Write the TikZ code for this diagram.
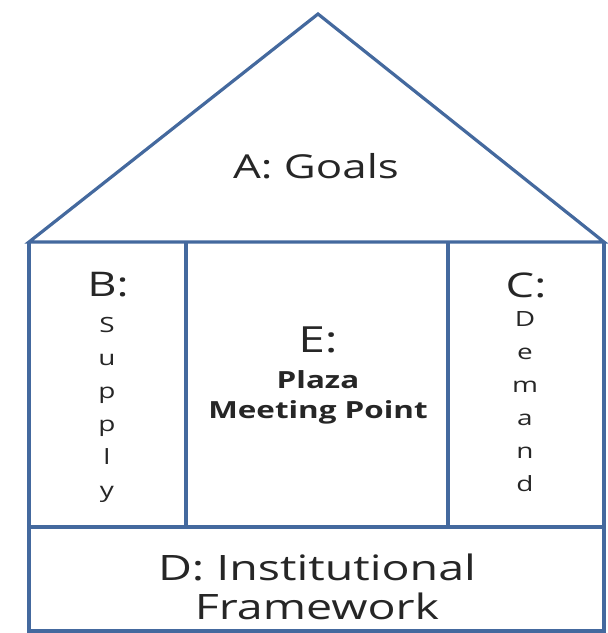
\documentclass[tikz,border=0pt]{standalone}
\usepackage{fontspec}
\setmainfont{Open Sans}[FakeStretch=1.33]
\begin{document}
\begin{tikzpicture}[
        x=0.5pt, y=-0.5pt,
        wall/.style={draw=houseblue, line width=1.6pt, line join=miter},
        label/.style={inner sep=0pt, text=black!85, align=center},
        letters/.style={label, font=\fontsize{10.5}{16.5}\selectfont}
      ]
        \definecolor{houseblue}{HTML}{44699E}
        \useasboundingbox (0,0) rectangle (607,633);

        \coordinate (top) at (318,14);
        \coordinate (ul) at (29,242);
        \coordinate (ur) at (604,242);
        \coordinate (ll) at (29,631);
        \coordinate (lr) at (604,631);
        \coordinate (c1) at (186,242);
        \coordinate (c2) at (448,242);
        \coordinate (fl) at (29,527);
        \coordinate (fr) at (604,527);

        \draw [wall] (ul) -- (top) -- (ur) -- cycle;
        \draw [wall] (ul) -- (ll) -- (lr) -- (ur);
        \draw [wall] (fl) -- (fr);
        \draw [wall] (c1) -- (c1 |- fl);
        \draw [wall] (c2) -- (c2 |- fl);

        \node (goals) at (316,166) [label, font=\fontsize{16.5}{20}\selectfont] {A: Goals};
        \node (supply) at (108,285) [label, font=\fontsize{17}{20}\selectfont] {B:};
        \node (supplytxt) at (107,410) [letters] {S\\u\\p\\p\\l\\y};
        \node (demand) at (526,285) [label, font=\fontsize{17}{20}\selectfont] {C:};
        \node (demandtxt) at (525,402) [letters] {D\\e\\m\\a\\n\\d};
        \node (plaza) at (318,340) [label, font=\fontsize{18}{20}\selectfont] {E:};
        \node (plazatxt) at (318,397) [label, font=\fontsize{11.8}{15}\selectfont\bfseries] {Plaza\\Meeting Point};
        \node (frame) at (317,587) [label, font=\fontsize{17.5}{19.5}\selectfont] {D: Institutional\\Framework};
      \end{tikzpicture}
\end{document}
